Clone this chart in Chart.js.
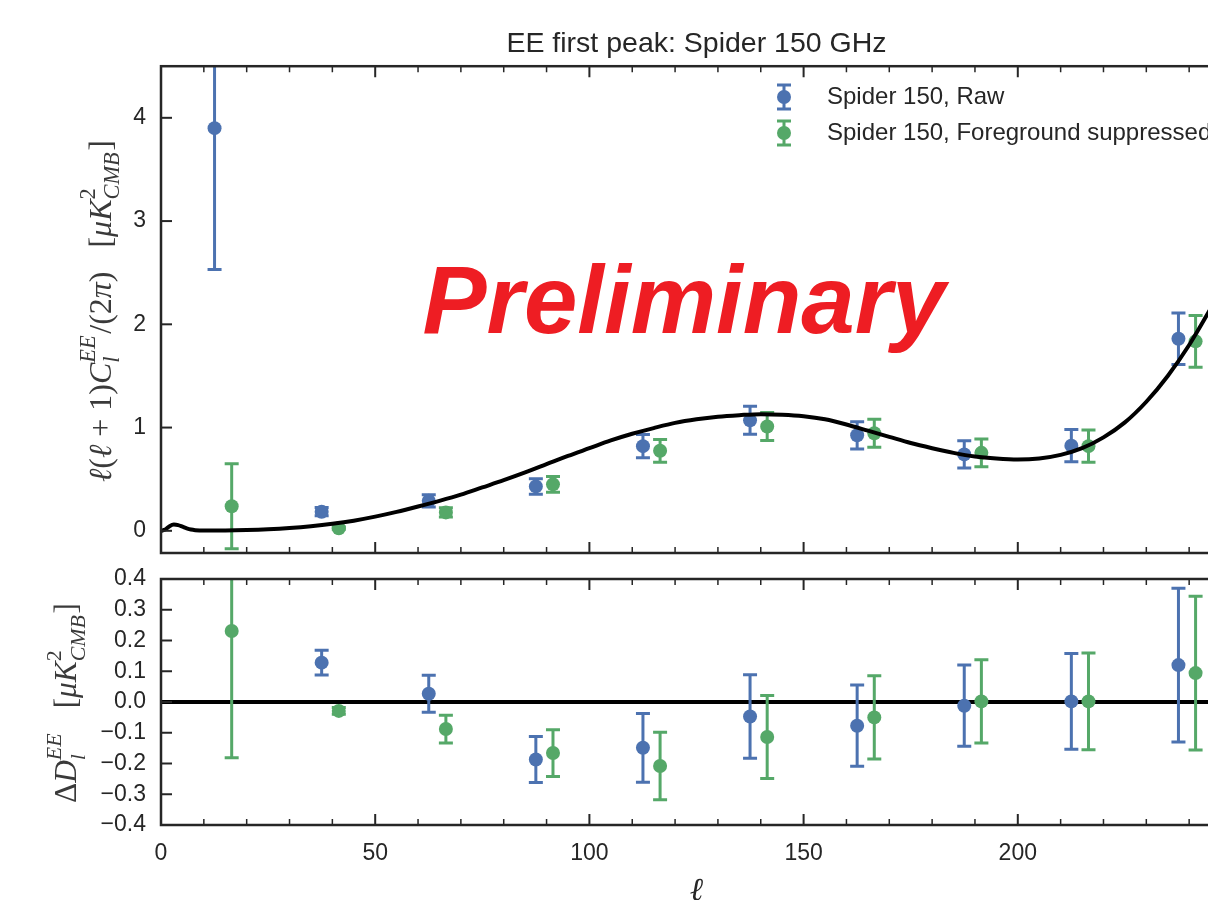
<!DOCTYPE html>
<html>
<head>
<meta charset="utf-8">
<script src="https://cdn.jsdelivr.net/npm/chart.js@4.4.1/dist/chart.umd.min.js"></script>
<style>
  html, body { margin: 0; padding: 0; background: #fff; overflow: hidden; }
  canvas { position: absolute; left: 0; }
  #top { top: 0; }
  #bot { top: 560px; }
</style>
</head>
<body>
<canvas id="top" width="1280" height="560"></canvas>
<canvas id="bot" width="1280" height="380"></canvas>
<script>
// bin centres (ell) for the two band-power sets
const ellRaw = [12.5, 37.5, 62.5, 87.5, 112.5, 137.5, 162.5, 187.5, 212.5, 237.5];
const ellFg = [16.5, 41.5, 66.5, 91.5, 116.5, 141.5, 166.5, 191.5, 216.5, 241.5];

// D_l^EE band powers and errors
const dlRaw = [3.9, 0.185, 0.29, 0.43, 0.82, 1.07, 0.925, 0.74, 0.825, 1.86];
const errRaw = [1.37, 0.04, 0.06, 0.075, 0.112, 0.136, 0.132, 0.132, 0.156, 0.25];
const dlFg = [0.238, 0.025, 0.178, 0.45, 0.775, 1.01, 0.945, 0.755, 0.82, 1.835];
const errFg = [0.412, 0.011, 0.045, 0.076, 0.11, 0.135, 0.135, 0.135, 0.157, 0.25];

// residuals against the model (first raw bin is off the panel)
const resRaw = [null, 0.128, 0.027, -0.187, -0.149, -0.047, -0.077, -0.012, 0.002, 0.12];
const resFg = [0.231, -0.029, -0.088, -0.166, -0.208, -0.114, -0.05, 0.002, 0.002, 0.094];

// theory curve
const modelEll = [0, 1, 2, 3, 4, 5, 6, 7, 8, 10, 15, 20, 25, 30, 35, 40, 45, 50, 55, 60, 65, 70, 75, 80,
  85, 90, 95, 100, 105, 110, 115, 120, 125, 130, 135, 140, 145, 150, 155, 160, 165, 170, 175, 180,
  185, 190, 195, 200, 205, 210, 215, 220, 225, 230, 235, 240, 245];
const modelDl = [0.0, 0.012, 0.045, 0.06, 0.055, 0.04, 0.024, 0.012, 0.006, 0.002, 0.003, 0.008, 0.016, 0.028,
  0.045, 0.068, 0.098, 0.137, 0.183, 0.235, 0.29, 0.35, 0.42, 0.49, 0.565, 0.645, 0.725, 0.80, 0.875, 0.94,
  0.995, 1.045, 1.08, 1.105, 1.12, 1.13, 1.125, 1.11, 1.08, 1.03, 0.97, 0.91, 0.85, 0.80, 0.755, 0.72, 0.70,
  0.69, 0.70, 0.735, 0.80, 0.905, 1.05, 1.25, 1.5, 1.8, 2.15];

const xLabelTicks = [0, 50, 100, 150, 200, 250];
const yTopTicks = [0, 1, 2, 3, 4];
const yBotTicks = [-0.4, -0.3, -0.2, -0.1, 0, 0.1, 0.2, 0.3, 0.4];

const labelRaw = 'Spider 150, Raw';
const labelFg = 'Spider 150, Foreground suppressed';

const BLUE = '#4c72b0';
const GREEN = '#55a868';
const INK = '#262626';
const SANS = '"Liberation Sans", Arial, sans-serif';
const SERIF = '"Liberation Serif", "DejaVu Serif", serif';

const pts = (xs, ys) => xs.map((x, i) => ({ x: x, y: ys[i] }));

// fixed axis sizes, no extra room for overhanging labels
const fixSize = (w, h) => s => {
  if (w !== null) s.width = w;
  if (h !== null) s.height = h;
  s.paddingTop = 0; s.paddingBottom = 0; s.paddingLeft = 0; s.paddingRight = 0;
};

// error bars, drawn just before the dataset's points
const errorBars = {
  id: 'errorBars',
  beforeDatasetDraw(chart, args, opts) {
    const spec = (opts.sets || []).find(s => s.index === args.index);
    if (!spec) return;
    const { ctx, chartArea: a, scales: { x, y } } = chart;
    const data = chart.data.datasets[args.index].data;
    ctx.save();
    ctx.beginPath();
    ctx.rect(a.left, a.top, a.right - a.left, a.bottom - a.top);
    ctx.clip();
    ctx.strokeStyle = spec.color;
    ctx.lineWidth = 3;
    data.forEach((p, i) => {
      if (p.y === null) return;
      const px = x.getPixelForValue(p.x);
      const y1 = y.getPixelForValue(p.y + spec.err[i]);
      const y2 = y.getPixelForValue(p.y - spec.err[i]);
      ctx.beginPath();
      ctx.moveTo(px, y1); ctx.lineTo(px, y2);
      ctx.moveTo(px - 7, y1); ctx.lineTo(px + 7, y1);
      ctx.moveTo(px - 7, y2); ctx.lineTo(px + 7, y2);
      ctx.stroke();
    });
    ctx.restore();
  }
};

// inward ticks and frame, matplotlib style
const frame = {
  id: 'frame',
  afterDraw(chart, args, opts) {
    const { ctx, chartArea: a, scales: { x, y } } = chart;
    ctx.save();
    ctx.strokeStyle = INK;
    for (let v = 0; v <= x.max; v += 10) {
      const px = x.getPixelForValue(v);
      const major = v % 50 === 0;
      const len = major ? 11 : 6;
      ctx.lineWidth = major ? 2 : 1.5;
      ctx.beginPath();
      ctx.moveTo(px, a.top); ctx.lineTo(px, a.top + len);
      ctx.moveTo(px, a.bottom); ctx.lineTo(px, a.bottom - len);
      ctx.stroke();
    }
    ctx.lineWidth = 2;
    opts.yTicks.forEach(v => {
      const py = y.getPixelForValue(v);
      ctx.beginPath();
      ctx.moveTo(a.left, py); ctx.lineTo(a.left + 11, py);
      ctx.stroke();
    });
    ctx.lineWidth = 2.5;
    ctx.strokeRect(a.left, a.top, a.right - a.left, a.bottom - a.top);
    ctx.restore();
  }
};

// small mathtext-like renderer for the rotated y labels
function drawMath(ctx, parts, cx, cy, target) {
  const font = (it, s) => (it ? 'italic ' : '') + s.toFixed(2) + 'px ' + SERIF;
  const measure = size => parts.map(p => {
    if (p.t !== undefined) { ctx.font = font(p.it, size); return ctx.measureText(p.t).width; }
    ctx.font = font(p.supIt, size * 0.7);
    const w1 = ctx.measureText(p.sup).width;
    ctx.font = font(p.subIt, size * 0.7);
    return Math.max(w1, ctx.measureText(p.sub).width) + size * 0.05;
  });
  let w = measure(24);
  const size = 24 * target / w.reduce((s, v) => s + v, 0);
  w = measure(size);
  const total = w.reduce((s, v) => s + v, 0);
  ctx.save();
  ctx.translate(cx, cy);
  ctx.rotate(-Math.PI / 2);
  ctx.fillStyle = '#3a3a3a';
  ctx.textAlign = 'left';
  ctx.textBaseline = 'alphabetic';
  let px = -total / 2;
  const base = size * 0.3;
  parts.forEach((p, i) => {
    if (p.t !== undefined) {
      ctx.font = font(p.it, size);
      ctx.fillText(p.t, px, base);
    } else {
      ctx.font = font(p.supIt, size * 0.7);
      ctx.fillText(p.sup, px, base - size * 0.48);
      ctx.font = font(p.subIt, size * 0.7);
      ctx.fillText(p.sub, px, base + size * 0.27);
    }
    px += w[i];
  });
  ctx.restore();
}

const topDecor = {
  id: 'topDecor',
  afterDraw(chart) {
    const { ctx } = chart;
    drawMath(ctx, [
      { t: 'ℓ', it: true }, { t: '(' }, { t: 'ℓ', it: true }, { t: ' + 1)' }, { t: 'C', it: true },
      { sup: 'EE', sub: 'l', supIt: true, subIt: true }, { t: '/(2' }, { t: 'π', it: true }, { t: ')   [' },
      { t: 'μK', it: true }, { sup: '2', sub: 'CMB', subIt: true }, { t: ']' }
    ], 101, 311, 342);

    // legend with error-bar glyphs
    ctx.save();
    [[labelRaw, BLUE, 97], [labelFg, GREEN, 133]].forEach(([txt, col, ly]) => {
      ctx.strokeStyle = col;
      ctx.fillStyle = col;
      ctx.lineWidth = 3;
      ctx.beginPath();
      ctx.moveTo(784, ly - 12); ctx.lineTo(784, ly + 12);
      ctx.moveTo(777, ly - 12); ctx.lineTo(791, ly - 12);
      ctx.moveTo(777, ly + 12); ctx.lineTo(791, ly + 12);
      ctx.stroke();
      ctx.beginPath();
      ctx.arc(784, ly, 7, 0, Math.PI * 2);
      ctx.fill();
      ctx.fillStyle = INK;
      ctx.font = '24px ' + SANS;
      ctx.textBaseline = 'middle';
      ctx.fillText(txt, 827, ly);
    });

    ctx.fillStyle = '#ee1d23';
    ctx.font = 'italic bold 96px ' + SANS;
    ctx.textAlign = 'center';
    ctx.textBaseline = 'alphabetic';
    ctx.fillText('Preliminary', 684, 333);
    ctx.restore();
  }
};

const botDecor = {
  id: 'botDecor',
  afterDraw(chart) {
    drawMath(chart.ctx, [
      { t: 'Δ' }, { t: 'D', it: true }, { sup: 'EE', sub: 'l', supIt: true, subIt: true },
      { t: '   [' }, { t: 'μK', it: true }, { sup: '2', sub: 'CMB', subIt: true }, { t: ']' }
    ], 67, 143, 200);
  }
};

const tickFont = { family: SANS, size: 23 };

new Chart(document.getElementById('top'), {
  type: 'scatter',
  data: {
    datasets: [
      {
        label: 'model', data: pts(modelEll, modelDl), showLine: true, pointRadius: 0,
        borderColor: '#000', borderWidth: 4, cubicInterpolationMode: 'monotone'
      },
      { label: labelRaw, data: pts(ellRaw, dlRaw), pointRadius: 7, borderWidth: 0, backgroundColor: BLUE },
      { label: labelFg, data: pts(ellFg, dlFg), pointRadius: 7, borderWidth: 0, backgroundColor: GREEN }
    ]
  },
  options: {
    responsive: false,
    animation: false,
    events: [],
    layout: { padding: { top: 0, right: 48, bottom: 0, left: 0 } },
    scales: {
      x: {
        type: 'linear', min: 0, max: 250,
        grid: { display: false, drawTicks: false }, border: { display: false },
        ticks: { display: false },
        afterFit: fixSize(null, 5)
      },
      y: {
        type: 'linear', min: -0.215, max: 4.5,
        grid: { display: false, drawTicks: false }, border: { display: false },
        ticks: { font: tickFont, color: INK, padding: 15, autoSkip: false, callback: v => String(v) },
        afterBuildTicks: s => { s.ticks = yTopTicks.map(v => ({ value: v })); },
        afterFit: fixSize(161, null)
      }
    },
    plugins: {
      legend: { display: false },
      tooltip: { enabled: false },
      title: {
        display: true, text: 'EE first peak: Spider 150 GHz', fullSize: false,
        color: INK, font: { family: SANS, size: 28.5, weight: 'normal' },
        padding: { top: 27, bottom: 5 }
      },
      errorBars: { sets: [{ index: 1, err: errRaw, color: BLUE }, { index: 2, err: errFg, color: GREEN }] },
      frame: { yTicks: yTopTicks }
    }
  },
  plugins: [errorBars, frame, topDecor]
});

new Chart(document.getElementById('bot'), {
  type: 'scatter',
  data: {
    datasets: [
      { label: labelRaw, data: pts(ellRaw, resRaw), pointRadius: 7, borderWidth: 0, backgroundColor: BLUE },
      { label: labelFg, data: pts(ellFg, resFg), pointRadius: 7, borderWidth: 0, backgroundColor: GREEN },
      {
        label: 'zero', data: [{ x: 0, y: 0 }, { x: 250, y: 0 }], showLine: true, pointRadius: 0,
        borderColor: '#000', borderWidth: 4
      }
    ]
  },
  options: {
    responsive: false,
    animation: false,
    events: [],
    layout: { padding: { top: 19, right: 48, bottom: 0, left: 0 } },
    scales: {
      x: {
        type: 'linear', min: 0, max: 250,
        grid: { display: false, drawTicks: false }, border: { display: false },
        ticks: { font: tickFont, color: INK, padding: 15, maxRotation: 0, autoSkip: false, callback: v => String(v) },
        afterBuildTicks: s => { s.ticks = xLabelTicks.map(v => ({ value: v })); },
        title: {
          display: true, text: 'ℓ', color: INK,
          font: { family: SERIF, style: 'italic', size: 32 },
          padding: { top: 0, bottom: 29 }
        },
        afterFit: fixSize(null, 115)
      },
      y: {
        type: 'linear', min: -0.4, max: 0.4,
        grid: { display: false, drawTicks: false }, border: { display: false },
        ticks: {
          font: tickFont, color: INK, padding: 15, autoSkip: false,
          callback: v => (v < -1e-9 ? '−' : '') + Math.abs(v).toFixed(1)
        },
        afterBuildTicks: s => { s.ticks = yBotTicks.map(v => ({ value: v })); },
        afterFit: fixSize(161, null)
      }
    },
    plugins: {
      legend: { display: false },
      tooltip: { enabled: false },
      errorBars: { sets: [{ index: 0, err: errRaw, color: BLUE }, { index: 1, err: errFg, color: GREEN }] },
      frame: { yTicks: yBotTicks }
    }
  },
  plugins: [errorBars, frame, botDecor]
});
</script>
</body>
</html>
